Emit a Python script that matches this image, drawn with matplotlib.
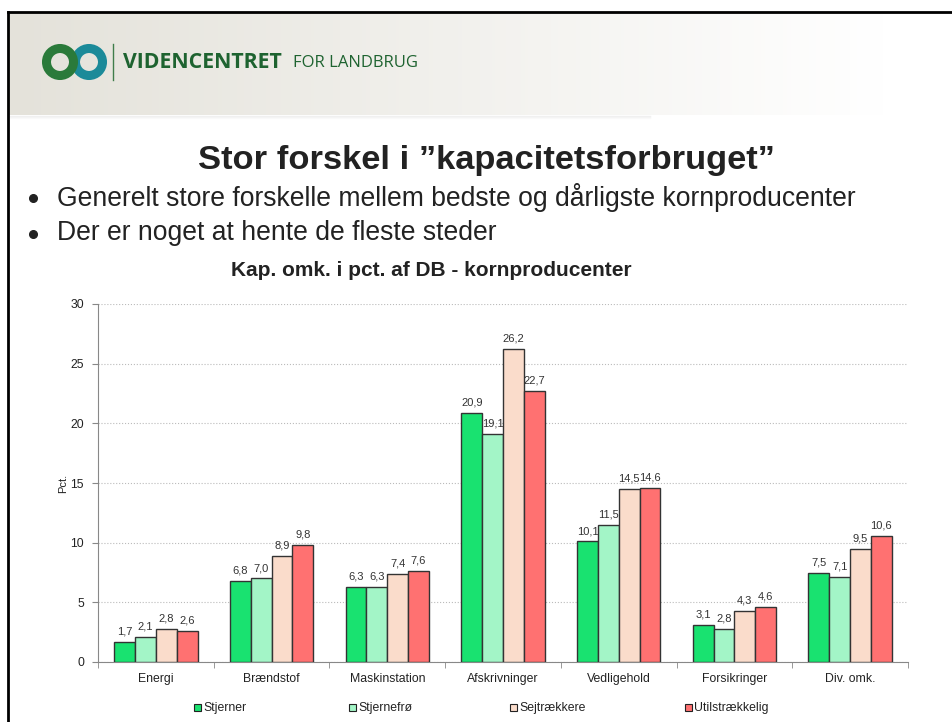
import matplotlib
matplotlib.use("Agg")
import matplotlib.pyplot as plt
import numpy as np
from matplotlib.patches import Circle, Rectangle

plt.rcParams['font.family'] = ['Liberation Sans', 'DejaVu Sans']

# data
categories = ['Energi', 'Brændstof', 'Maskinstation', 'Afskrivninger',
              'Vedligehold', 'Forsikringer', 'Div. omk.']
series = ['Stjerner', 'Stjernefrø', 'Sejtrækkere', 'Utilstrækkelig']
stjerner = [1.7, 6.8, 6.3, 20.9, 10.1, 3.1, 7.5]
stjernefro = [2.1, 7.0, 6.3, 19.1, 11.5, 2.8, 7.1]
sejtraekkere = [2.8, 8.9, 7.4, 26.2, 14.5, 4.3, 9.5]
utilstraekkelig = [2.6, 9.8, 7.6, 22.7, 14.6, 4.6, 10.6]
yticks = [0, 5, 10, 15, 20, 25, 30]

colors = ['#19e270', '#a3f5c7', '#fadccb', '#ff7171']

fig = plt.figure(figsize=(9.53, 7.22), dpi=100)

# slide background in pixel coordinates
bg = fig.add_axes([0, 0, 1, 1])
bg.set_xlim(0, 953)
bg.set_ylim(722, 0)
bg.axis('off')

# header gradient
grad = np.linspace(0, 1, 256)
t = np.clip(grad * 1.08, 0, 1)
c0 = np.array([228, 226, 218]) / 255.0
c1 = np.array([255, 255, 255]) / 255.0
img = (c0[None, :] * (1 - t[:, None]) + c1[None, :] * t[:, None])[None, :, :]
bg.imshow(img, extent=[8, 953, 115, 12], aspect='auto', zorder=0)
# soft shadow under header
for i, a in enumerate([0.12, 0.07, 0.04]):
    bg.plot([8, 650], [115.5 + i, 115.5 + i], color='#999999', alpha=a, lw=1, zorder=1)

# slide frame
bg.plot([8, 953], [12, 12], color='black', lw=2, zorder=5)
bg.plot([8, 8], [12, 722], color='black', lw=2, zorder=5)

# logo
bg.add_patch(Circle((89, 62), 13.5, fill=False, ec='#1b8a99', lw=6.5, zorder=3))
bg.add_patch(Circle((60, 62), 13.5, fill=False, ec='#2a7a3a', lw=6.5, zorder=4))
bg.plot([113, 113], [44, 80], color='#3f7d4a', lw=1, zorder=3)
bg.text(123, 63, 'VIDENCENTRET', family=['Open Sans', 'DejaVu Sans'], fontsize=15.3,
        fontweight='bold', color='#1e6330', va='center', ha='left')
bg.text(293, 63, 'FOR LANDBRUG', family=['Open Sans', 'DejaVu Sans'], fontsize=12,
        color='#1e6330', va='center', ha='left')

# slide title and bullets
bg.text(486, 160, 'Stor forskel i \u201dkapacitetsforbruget\u201d', fontsize=24.8,
        fontweight='bold', color='#222222', ha='center', va='center')
bg.plot([33, 33], [198, 234], linestyle='none', marker='o', markersize=5.5,
        color='#222222', zorder=3)
bg.text(57, 197, 'Generelt store forskelle mellem bedste og dårligste kornproducenter',
        fontsize=19.1, color='#222222', va='center')
bg.text(57, 233, 'Der er noget at hente de fleste steder',
        fontsize=19.1, color='#222222', va='center')

# chart title
bg.text(431, 271, 'Kap. omk. i pct. af DB - kornproducenter', fontsize=15,
        fontweight='bold', color='#222222', ha='center', va='center')

# chart
ax = fig.add_axes([98 / 953, 1 - 662 / 722, 810 / 953, 358 / 722])
ax.patch.set_alpha(0)
x = np.arange(len(categories))
w = 0.18
all_vals = [stjerner, stjernefro, sejtraekkere, utilstraekkelig]
for i, vals in enumerate(all_vals):
    pos = x + (i - 1.5) * w
    bars = ax.bar(pos, vals, w, color=colors[i], edgecolor='#333333', linewidth=1,
                  label=series[i], zorder=3)
    for b, v in zip(bars, vals):
        ax.text(b.get_x() + b.get_width() / 2, v + 0.45, f'{v:.1f}'.replace('.', ','),
                ha='center', va='bottom', fontsize=8, color='#333333', zorder=4)

ax.set_xlim(-0.5, len(categories) - 0.5)
ax.set_ylim(0, 30)
ax.set_yticks(yticks)
ax.set_xticks(x)
ax.set_xticklabels(categories, fontsize=8.8, color='#222222')
ax.set_xticks(np.arange(len(categories) + 1) - 0.5, minor=True)
ax.tick_params(axis='x', which='major', length=0, pad=8)
ax.tick_params(axis='x', which='minor', length=4, color='#888888', direction='out')
ax.tick_params(axis='y', length=4, color='#888888', labelsize=8.8, labelcolor='#222222', pad=6)
ax.grid(axis='y', color='#bbbbbb', linestyle=':', linewidth=0.8, zorder=0)
for s in ['top', 'right']:
    ax.spines[s].set_visible(False)
for s in ['left', 'bottom']:
    ax.spines[s].set_color('#888888')
ax.set_ylabel('Pct.', fontsize=8, color='#222222', labelpad=2)

# legend
leg_x = [197, 352, 513, 688]
for i, name in enumerate(series):
    bg.add_patch(Rectangle((leg_x[i] - 3, 704), 7, 7, facecolor=colors[i],
                           edgecolor='#222222', lw=0.8, zorder=3))
    bg.text(leg_x[i] + 6, 707.5, name, fontsize=8.8, color='#222222', va='center', ha='left')

fig.savefig('out.png', dpi=100)
